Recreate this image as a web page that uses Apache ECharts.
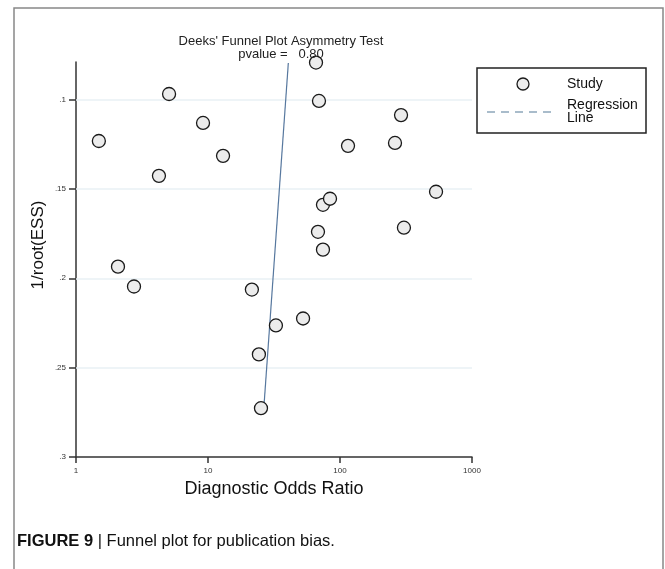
<!DOCTYPE html>
<html>
<head>
<meta charset="utf-8">
<script src="https://cdn.jsdelivr.net/npm/echarts@6/dist/echarts.min.js"></script>
<style>
  html, body { margin: 0; padding: 0; background: #fff; }
  #chart { width: 665px; height: 569px; }
</style>
</head>
<body>
<div id="chart"></div>
<script>
// diagnostic odds ratio and 1/root(ESS) of each study
var studyDOR = [1.49, 2.08, 2.75, 4.25, 5.07, 9.17, 13.0, 21.5, 24.3, 25.2, 32.7, 52.5,
                65.8, 69.3, 68.1, 74.3, 74.3, 84.0, 115, 261, 290, 305, 534];
var studyESS = [0.1232, 0.1935, 0.2046, 0.1427, 0.0969, 0.1131, 0.1315, 0.2063, 0.2426, 0.2727, 0.2264, 0.2225,
                0.0793, 0.1008, 0.1740, 0.1840, 0.1589, 0.1555, 0.1259, 0.1243, 0.1087, 0.1717, 0.1516];

// regression line ends
var regDOR = [40.6, 26.6];
var regESS = [0.0796, 0.2705];

var yTicks = [0.1, 0.15, 0.2, 0.25, 0.3];
var yTickLabels = ['.1', '.15', '.2', '.25', '.3'];

var font = '"Liberation Sans", Arial, sans-serif';

var chart = echarts.init(document.getElementById('chart'));

var points = studyDOR.map(function (d, i) { return [d, studyESS[i]]; });
var regLine = regDOR.map(function (d, i) { return [d, regESS[i]]; });

var option = {
    backgroundColor: '#fff',
    animation: false,
    title: {
        text: "Deeks' Funnel Plot Asymmetry Test",
        subtext: 'pvalue =   0.80',
        left: 276,
        top: 30,
        textAlign: 'center',
        itemGap: 0,
        textStyle: { fontFamily: font, fontSize: 13, fontWeight: 'normal', color: '#222' },
        subtextStyle: { fontFamily: font, fontSize: 13, color: '#222' }
    },
    grid: { left: 76, right: 193, top: 62, bottom: 112 },
    xAxis: {
        type: 'log',
        logBase: 10,
        min: 1,
        max: 1000,
        name: 'Diagnostic Odds Ratio',
        nameLocation: 'middle',
        nameGap: 22,
        nameTextStyle: { fontFamily: font, fontSize: 18, color: '#111' },
        axisLine: { lineStyle: { color: '#333', width: 1.5 } },
        axisTick: { length: 6, lineStyle: { color: '#333', width: 1.5 } },
        axisLabel: {
            fontFamily: font, fontSize: 8, color: '#333', margin: 10,
            formatter: function (v) { return String(Math.round(v)); }
        },
        splitLine: { show: false },
        minorTick: { show: false }
    },
    yAxis: {
        type: 'value',
        inverse: true,
        min: 0.079,
        max: 0.3,
        axisLine: { lineStyle: { color: '#333', width: 1.5 } },
        axisTick: { length: 7, customValues: yTicks, lineStyle: { color: '#333', width: 1.5 } },
        axisLabel: {
            fontFamily: font, fontSize: 8, color: '#333', margin: 10,
            customValues: yTicks,
            formatter: function (v) {
                var i = yTicks.findIndex(function (t) { return Math.abs(t - v) < 1e-6; });
                return i >= 0 ? yTickLabels[i] : '';
            }
        },
        splitLine: { show: false }
    },
    series: [
        {
            name: 'grid',
            type: 'line',
            data: [],
            z: 1,
            silent: true,
            markLine: {
                z: 1,
                silent: true,
                symbol: 'none',
                animation: false,
                label: { show: false },
                lineStyle: { color: '#e9f1f5', width: 1.5, type: 'solid' },
                data: yTicks.slice(0, 4).map(function (t) { return { yAxis: t }; })
            }
        },
        {
            name: 'Regression Line',
            type: 'line',
            data: regLine,
            z: 2,
            symbol: 'none',
            lineStyle: { color: '#56779e', width: 1.2 }
        },
        {
            name: 'Study',
            type: 'scatter',
            data: points,
            z: 3,
            symbol: 'circle',
            symbolSize: 13,
            clip: false,
            itemStyle: { color: '#ececec', borderColor: '#1a1a1a', borderWidth: 1.3, opacity: 1 }
        }
    ],
    graphic: [
        // outer frame
        { type: 'polyline', shape: { points: [[14, 569], [14, 8], [663, 8], [663, 569]] },
          style: { stroke: '#888', lineWidth: 1.5, fill: null }, silent: true },
        // y axis title
        { type: 'text', x: 38, y: 245, rotation: Math.PI / 2,
          style: { text: '1/root(ESS)', font: '17px ' + font, fill: '#111', align: 'center', verticalAlign: 'middle' } },
        // legend
        { type: 'rect', shape: { x: 477, y: 68, width: 169, height: 65 },
          style: { fill: '#fff', stroke: '#222', lineWidth: 1.5 } },
        { type: 'circle', shape: { cx: 523, cy: 84, r: 6 },
          style: { fill: '#ececec', stroke: '#1a1a1a', lineWidth: 1.3 } },
        { type: 'text', x: 567, y: 84,
          style: { text: 'Study', font: '14px ' + font, fill: '#111', verticalAlign: 'middle' } },
        { type: 'line', shape: { x1: 487, y1: 112, x2: 556, y2: 112 },
          style: { stroke: '#a9bccb', lineWidth: 2, lineDash: [8, 6] } },
        { type: 'text', x: 567, y: 112,
          style: { text: 'Regression\nLine', font: '14px ' + font, lineHeight: 13, fill: '#111', verticalAlign: 'middle' } },
        // caption
        { type: 'text', x: 17, y: 541,
          style: {
              text: '{b|FIGURE 9} | Funnel plot for publication bias.',
              font: '16.5px ' + font, fill: '#111', verticalAlign: 'middle',
              rich: { b: { font: 'bold 16.5px ' + font, fill: '#111' } }
          } }
    ]
};

chart.setOption(option);
</script>
</body>
</html>
